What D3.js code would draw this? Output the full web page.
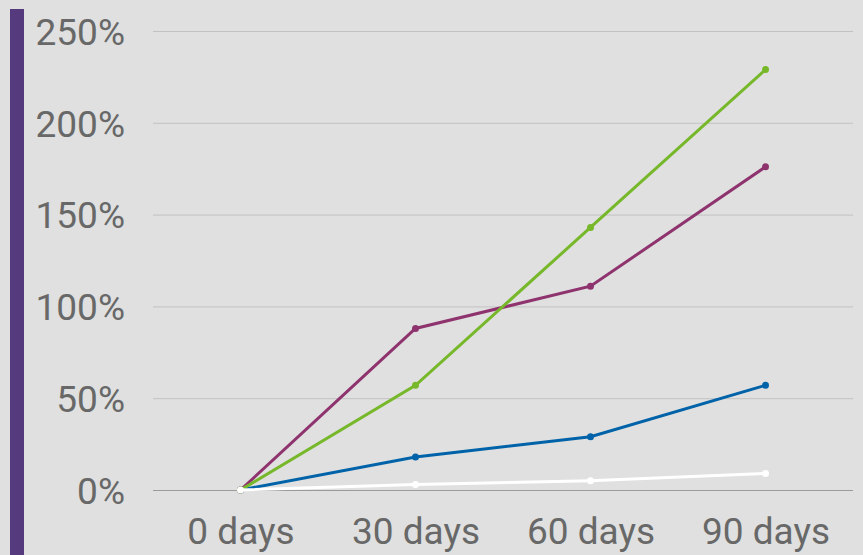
<!DOCTYPE html>
<html>
<head>
<meta charset="utf-8">
<script src="https://cdn.jsdelivr.net/npm/d3@7"></script>
<style>
  body { margin: 0; background: #dfe0df; }
  svg { display: block; font-family: Roboto, sans-serif; }
</style>
</head>
<body>
<svg></svg>
<script>
const WIDTH = 863;
const HEIGHT = 555;

// data
const categories = ['0 days', '30 days', '60 days', '90 days'];
const greenValues = [0, 57, 143, 229];
const purpleValues = [0, 88, 111, 176];
const blueValues = [0, 18, 29, 57];
const whiteValues = [0, 3, 5, 9];
const yTicks = [0, 50, 100, 150, 200, 250];

// draw order: white ends up on top at the origin
const series = [
  { values: blueValues, color: '#0063a9' },
  { values: purpleValues, color: '#8f336f' },
  { values: greenValues, color: '#77b82a' },
  { values: whiteValues, color: '#ffffff' }
];

const svg = d3.select('svg')
    .attr('width', WIDTH)
    .attr('height', HEIGHT);

svg.append('rect')
    .attr('width', WIDTH).attr('height', HEIGHT)
    .attr('fill', '#dfe0df');

// purple side bar
svg.append('rect')
    .attr('x', 10).attr('y', 9)
    .attr('width', 14).attr('height', HEIGHT - 9)
    .attr('fill', '#553a7e');

const xScale = d3.scalePoint()
    .domain(categories)
    .range([153, 853])
    .padding(0.5);

const yScale = d3.scaleLinear()
    .domain([0, 250])
    .range([490, 31]);

// gridlines
svg.append('g').selectAll('line')
    .data(yTicks)
    .enter()
    .append('line')
    .attr('x1', 153).attr('x2', 853)
    .attr('y1', d => yScale(d) + 0.5)
    .attr('y2', d => yScale(d) + 0.5)
    .attr('stroke', d => d === 0 ? '#9a9a9a' : '#c2c2c2')
    .attr('stroke-width', 1);

// y labels
const leftAxis = d3.axisLeft(yScale)
    .tickValues(yTicks)
    .tickFormat(d => d + '%')
    .tickSize(0)
    .tickPadding(0);
const yAxisG = svg.append('g')
    .attr('transform', 'translate(125,0)')
    .call(leftAxis);
yAxisG.select('.domain').remove();
yAxisG.selectAll('text')
    .attr('fill', '#686868')
    .attr('font-size', 37)
    .attr('font-family', 'Roboto, sans-serif')
    .attr('dy', '0.36em');

// x labels
const bottomAxis = d3.axisBottom(xScale).tickSize(0).tickPadding(0);
const xAxisG = svg.append('g')
    .attr('transform', 'translate(0,518)')
    .call(bottomAxis);
xAxisG.select('.domain').remove();
xAxisG.selectAll('text')
    .attr('fill', '#686868')
    .attr('font-size', 37)
    .attr('font-family', 'Roboto, sans-serif')
    .attr('dy', '0.71em');

const line = d3.line()
    .x((d, i) => xScale(categories[i]))
    .y(d => yScale(d));

series.forEach(function(s) {
  svg.append('path')
      .datum(s.values)
      .attr('d', line)
      .attr('fill', 'none')
      .attr('stroke', s.color)
      .attr('stroke-width', 3);
  svg.append('g').selectAll('circle')
      .data(s.values)
      .enter()
      .append('circle')
      .attr('cx', (d, i) => xScale(categories[i]))
      .attr('cy', d => yScale(d))
      .attr('r', 3.5)
      .attr('fill', s.color);
});
</script>
</body>
</html>
